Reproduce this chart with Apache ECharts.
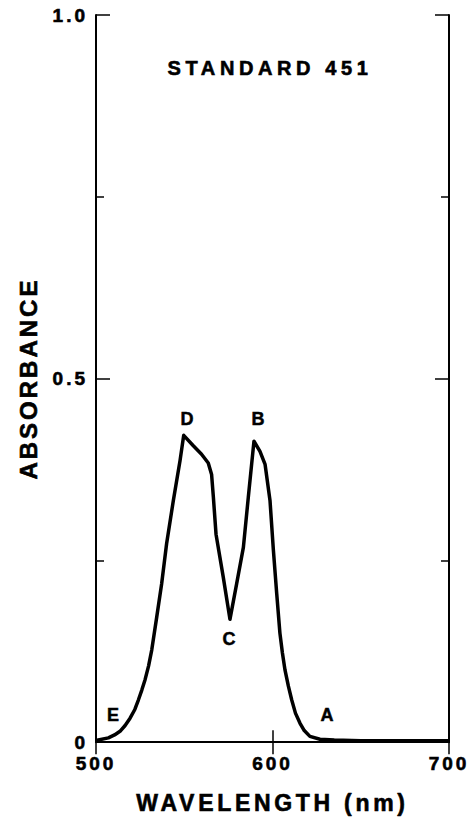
<!DOCTYPE html>
<html>
<head>
<meta charset="utf-8">
<script src="https://cdn.jsdelivr.net/npm/echarts@6/dist/echarts.min.js"></script>
<style>
  html, body { margin: 0; padding: 0; background: #fff; }
  #chart { width: 476px; height: 820px; }
  svg text { letter-spacing: 3px; }
  svg text[style*="20px"] { letter-spacing: 4.6px; }
  svg text[style*="23px"] { letter-spacing: 3.7px; }
  svg text[style*="24px"] { letter-spacing: 3px; }
  svg text[style*="19px"] { letter-spacing: 3px; }
  svg text[style*="18px"] { letter-spacing: 0px; }
</style>
</head>
<body>
<div id="chart"></div>
<script>
// Wavelength (nm) and absorbance
const wavelength = [500, 501.3, 507, 510.5, 513.6, 516.5, 519.3, 522, 524, 526, 527.8, 529.8, 531.6, 534.4, 537.2, 540, 543.8, 547.6, 549.7, 555, 559.8, 563.6, 565.5, 566.5, 568, 572.1, 575.9, 579.7, 583.5, 586.3, 589.5, 592.9, 595.8, 598.6, 600.5, 602.4, 604.2, 605.6, 607.1, 609, 610.9, 613, 615.6, 618, 621.2, 626.9, 635, 650, 675, 700];
const absorbance = [0.002, 0.003, 0.006, 0.010, 0.015, 0.023, 0.033, 0.045, 0.058, 0.072, 0.086, 0.105, 0.127, 0.172, 0.218, 0.273, 0.332, 0.387, 0.422, 0.408, 0.396, 0.384, 0.368, 0.337, 0.286, 0.227, 0.169, 0.218, 0.268, 0.337, 0.414, 0.400, 0.382, 0.332, 0.264, 0.204, 0.150, 0.123, 0.099, 0.077, 0.058, 0.040, 0.026, 0.016, 0.008, 0.004, 0.003, 0.002, 0.002, 0.002];

// Point annotations
const pointNames = ['D', 'B', 'C', 'E', 'A'];
const pointX = [551.6, 591.8, 575.4, 509.6, 630.9];
const pointY = [0.445, 0.445, 0.142, 0.038, 0.038];

// Tick labels
const xTickLabels = {500: '500', 600: '600', 700: '700'};
const yTickLabels = {0: '0', 0.5: '0.5', 1: '1.0'};

const titleText = 'STANDARD 451';
const xName = 'WAVELENGTH (nm)';
const yName = 'ABSORBANCE';

const FONT = '"Liberation Sans", Arial, Helvetica, sans-serif';
const BLACK = '#000';
const bold = {textBorderColor: BLACK, textBorderWidth: 0.6};

const chart = echarts.init(document.getElementById('chart'), null, {renderer: 'svg', width: 476, height: 820});

const lineData = wavelength.map((w, i) => [w, absorbance[i]]);
const pointData = pointNames.map((n, i) => [pointX[i], pointY[i], n]);

const axisLine = {show: true, lineStyle: {color: BLACK, width: 2}};

chart.setOption({
  animation: false,
  backgroundColor: '#fff',
  grid: {left: 96, right: 27, top: 15, bottom: 74, containLabel: false},
  graphic: [{
    type: 'text',
    x: 270, y: 68,
    style: {
      text: titleText,
      fontFamily: FONT, fontWeight: 'bold', fontSize: 20,
      fill: BLACK, textAlign: 'center', textVerticalAlign: 'middle',
      stroke: BLACK, lineWidth: 0.6
    }
  }],
  xAxis: [{
    type: 'value', position: 'bottom', min: 500, max: 700, interval: 100,
    axisLine: axisLine,
    axisTick: {show: true, inside: true, length: 12, lineStyle: {color: BLACK, width: 1.5}},
    axisLabel: Object.assign({
      show: true, margin: 12, color: BLACK, fontFamily: FONT, fontWeight: 'bold', fontSize: 19,
      formatter: v => xTickLabels[v] || ''
    }, bold),
    splitLine: {show: false},
    name: xName, nameLocation: 'middle', nameGap: 61,
    nameTextStyle: Object.assign({color: BLACK, fontFamily: FONT, fontWeight: 'bold', fontSize: 23, verticalAlign: 'middle'}, bold)
  }, {
    type: 'value', position: 'top', min: 500, max: 700, interval: 100,
    axisLine: axisLine,
    axisTick: {show: true, inside: true, length: 12, lineStyle: {color: BLACK, width: 1.5}},
    axisLabel: {show: false},
    splitLine: {show: false}
  }],
  yAxis: [{
    type: 'value', position: 'left', min: 0, max: 1, interval: 0.5,
    axisLine: axisLine,
    axisTick: {show: true, inside: true, length: 14, lineStyle: {color: BLACK, width: 1.5}},
    minorTick: {show: true, splitNumber: 2, length: 8, lineStyle: {color: BLACK, width: 1.5}},
    axisLabel: Object.assign({
      show: true, margin: 8, color: BLACK, fontFamily: FONT, fontWeight: 'bold', fontSize: 19,
      formatter: v => yTickLabels[v] || ''
    }, bold),
    splitLine: {show: false},
    minorSplitLine: {show: false},
    name: yName, nameLocation: 'middle', nameGap: 68, nameRotate: 90,
    nameTextStyle: Object.assign({color: BLACK, fontFamily: FONT, fontWeight: 'bold', fontSize: 24, verticalAlign: 'middle'}, bold)
  }, {
    type: 'value', position: 'right', min: 0, max: 1, interval: 0.5,
    axisLine: axisLine,
    axisTick: {show: true, inside: true, length: 14, lineStyle: {color: BLACK, width: 1.5}},
    minorTick: {show: true, splitNumber: 2, length: 8, lineStyle: {color: BLACK, width: 1.5}},
    axisLabel: {show: false},
    splitLine: {show: false},
    minorSplitLine: {show: false}
  }],
  series: [{
    type: 'line',
    xAxisIndex: 0, yAxisIndex: 0,
    data: lineData,
    showSymbol: false,
    smooth: false,
    lineStyle: {color: BLACK, width: 3.5, join: 'round'},
    z: 3
  }, {
    type: 'scatter',
    xAxisIndex: 0, yAxisIndex: 0,
    data: pointData,
    symbolSize: 0,
    itemStyle: {color: BLACK, opacity: 1},
    label: {
      show: true, position: 'inside',
      color: BLACK, fontFamily: FONT, fontWeight: 'bold', fontSize: 18,
      textBorderColor: BLACK, textBorderWidth: 0.5,
      formatter: p => p.data[2]
    },
    z: 4
  }]
});
</script>
</body>
</html>
